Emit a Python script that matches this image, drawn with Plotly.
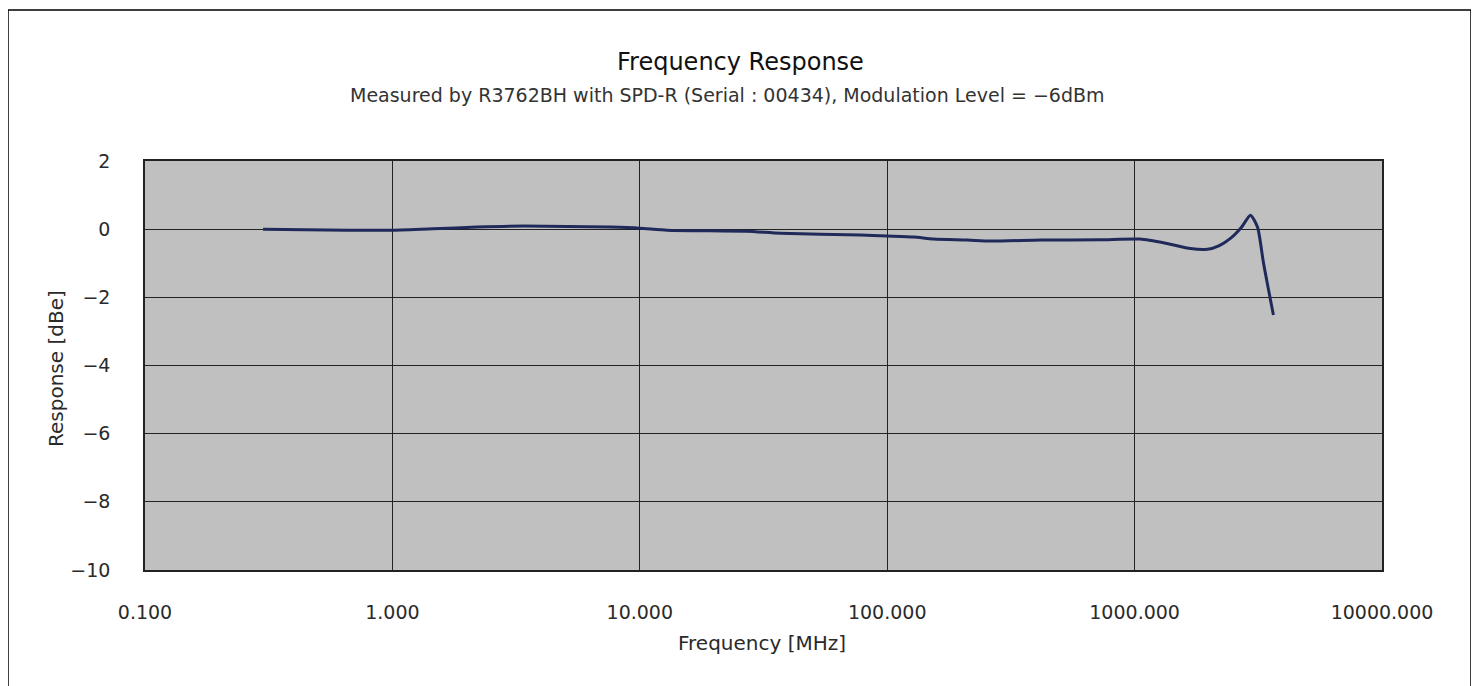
import plotly.graph_objects as go

freq_mhz = [0.3, 0.66, 1.0, 1.46, 2.2, 3.4, 7.6, 10, 12.9, 27, 37, 78, 100, 128, 154,
            211, 261, 416, 728, 1055, 1350, 1683, 1968, 2200, 2440, 2700, 2940, 3140, 3320, 3640]
response_db = [0.0, -0.03, -0.03, 0.01, 0.06, 0.09, 0.06, 0.03, -0.03, -0.06, -0.12, -0.17, -0.2, -0.23, -0.29,
               -0.32, -0.35, -0.32, -0.31, -0.29, -0.42, -0.57, -0.59, -0.48, -0.27, 0.05, 0.41, 0.06, -1.0, -2.52]

x_tickvals = [0.1, 1, 10, 100, 1000, 10000]
x_ticktext = ["0.100", "1.000", "10.000", "100.000", "1000.000", "10000.000"]
y_tickvals = [2, 0, -2, -4, -6, -8, -10]
y_ticktext = ["2", "0", "\u22122", "\u22124", "\u22126", "\u22128", "\u221210"]

title_text = "Frequency Response"
subtitle_text = "Measured by R3762BH with SPD-R (Serial : 00434), Modulation Level = \u22126dBm"
x_title = "Frequency [MHz]"
y_title = "Response [dBe]"

FONT = "DejaVu Sans, Verdana, sans-serif"

# page offset of the figure (body margin)
OFF = 8
W, H = 1479 - OFF, 686 - OFF
# plot area in page pixels
PX0, PX1, PY0, PY1 = 145, 1382, 161, 570
L = PX0 - OFF
T = PY0 - OFF
R = W - (PX1 - OFF)
B = H - (PY1 - OFF)
pw, ph = W - L - R, H - T - B


def px_x(x):
    return (x - OFF - L) / pw


def px_y(y):
    return (H - B - (y - OFF)) / ph


fig = go.Figure()
fig.add_trace(go.Scatter(
    x=freq_mhz, y=response_db, mode="lines",
    line=dict(color="#1f2a5a", width=3, shape="spline", smoothing=0.6),
    showlegend=False, hoverinfo="x+y",
))

fig.update_layout(
    width=W, height=H,
    margin=dict(l=L, r=R, t=T, b=B, pad=0),
    paper_bgcolor="white",
    plot_bgcolor="#c0c0c0",
    font=dict(family=FONT, color="#222222"),
    xaxis=dict(
        type="log", range=[-1, 4], tickvals=x_tickvals, ticktext=x_ticktext,
        showgrid=True, gridcolor="#222222", gridwidth=1,
        showline=True, linecolor="#222222", linewidth=1.5, mirror=True,
        ticks="", tickfont=dict(size=19, color="#2a2a2a"), ticklabelstandoff=24,
        zeroline=False,
    ),
    yaxis=dict(
        range=[-10, 2], tickvals=y_tickvals, ticktext=y_ticktext,
        showgrid=True, gridcolor="#222222", gridwidth=1,
        showline=True, linecolor="#222222", linewidth=1.5, mirror=True,
        ticks="", tickfont=dict(size=19, color="#2a2a2a"), ticklabelstandoff=29,
        zeroline=False,
    ),
    shapes=[
        dict(type="rect", xref="paper", yref="paper",
             x0=px_x(8), x1=px_x(1471), y0=px_y(700), y1=px_y(10),
             line=dict(color="#000000", width=1.5), fillcolor="rgba(0,0,0,0)", layer="below"),
    ],
    annotations=[
        dict(text=title_text, xref="paper", yref="paper", x=px_x(740), y=px_y(62),
             showarrow=False, font=dict(size=24, color="#111111", family=FONT), xanchor="center", yanchor="middle"),
        dict(text=subtitle_text, xref="paper", yref="paper", x=px_x(727), y=px_y(95),
             showarrow=False, font=dict(size=19, color="#333333", family=FONT), xanchor="center", yanchor="middle"),
        dict(text=x_title, xref="paper", yref="paper", x=px_x(762), y=px_y(643),
             showarrow=False, font=dict(size=20, color="#2a2a2a", family=FONT), xanchor="center", yanchor="middle"),
        dict(text=y_title, xref="paper", yref="paper", x=px_x(56), y=px_y(369),
             showarrow=False, textangle=-90, font=dict(size=20, color="#2a2a2a", family=FONT), xanchor="center", yanchor="middle"),
    ],
)

fig.write_html("out.html")
